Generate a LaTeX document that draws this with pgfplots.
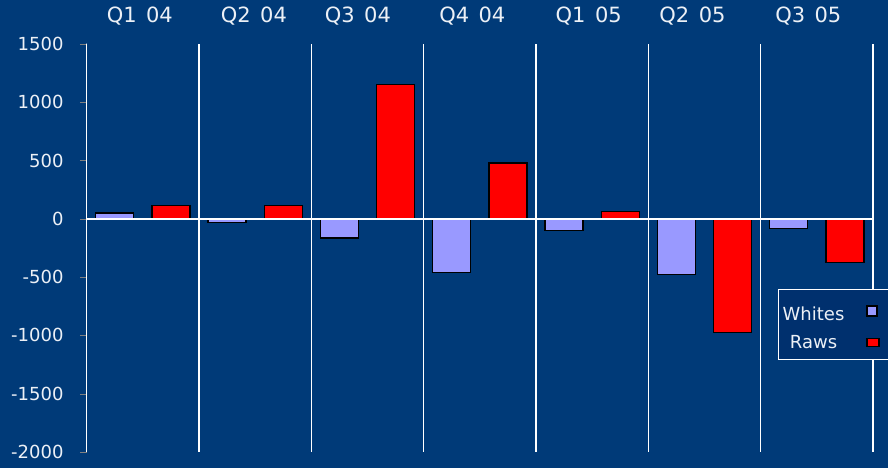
\documentclass[border=0pt]{standalone}
\usepackage{pgfplots}
\pgfplotsset{compat=1.18}
\usepackage{fontspec}
\setmainfont{DejaVu Sans}

\definecolor{bg}{RGB}{0,58,120}
\definecolor{legbg}{RGB}{0,48,110}
\definecolor{whites}{RGB}{153,153,255}
\definecolor{raws}{RGB}{255,0,0}
\definecolor{lbl}{RGB}{236,240,246}

\pgfplotsset{
    wleg/.style={legend image code/.code={\draw[##1, line width=1.3pt] (0pt,-5pt) rectangle (10pt,5pt); \path[draw=none, fill=none] (0pt,0pt) -- (26pt,0pt);}},
    rleg/.style={legend image code/.code={\draw[##1, line width=1.3pt] (0pt,-4pt) rectangle (12pt,4pt); \path[draw=none, fill=none] (0pt,0pt) -- (26pt,0pt);}},
}

\begin{document}
\begin{tikzpicture}[x=1pt,y=1pt]
\path[use as bounding box, fill=bg] (0,0) rectangle (888,468);
\begin{axis}[
    at={(86.7pt,16pt)}, anchor=south west,
    scale only axis, width=786.3pt, height=408pt,
    xmin=-0.5, xmax=6.5,
    ymin=-2000, ymax=1500,
    separate axis lines,
    axis line style={white, line width=1.3pt},
    x axis line style={draw=none},
    xtick={-0.027,0.988,1.914,2.933,3.969,4.893,5.924},
    xticklabels={Q1\hspace{0.45em}04,Q2\hspace{0.45em}04,Q3\hspace{0.45em}04,Q4\hspace{0.45em}04,Q1\hspace{0.45em}05,Q2\hspace{0.45em}05,Q3\hspace{0.45em}05},
    xticklabel pos=right,
    xtick style={draw=none},
    xticklabel style={font=\fontsize{21}{25}\selectfont, text=lbl, yshift=9pt},
    extra x ticks={0.5,1.5,2.5,3.5,4.5,5.5},
    extra x tick labels={},
    extra x tick style={grid=major, major grid style={white, line width=1.3pt}, tick style={draw=none}},
    ytick={-2000,-1500,-1000,-500,0,500,1000,1500},
    yticklabels={-2000,-1500,-1000,-500,0,500,1000,1500},
    ytick pos=left,
    tick align=outside,
    major tick length=6.7pt,
    yticklabel style={font=\fontsize{18}{22}\selectfont, text=lbl, xshift=-13pt},
    legend plot pos=right,
    legend cell align=center,
    legend style={at={(0.8792,0.3995)}, anchor=north west,
        draw=white, line width=1.3pt, fill=legbg, text=lbl,
        font=\fontsize{18}{22}\selectfont,
        inner xsep=3pt, inner ysep=9pt, row sep=11pt, column sep=21pt,
        nodes={inner sep=1pt}},
]
\addplot[ybar, bar width=0.338, bar shift=-0.25, fill=whites, draw=black, line width=1.3pt, wleg]
    coordinates {(0,50)(1,-30)(2,-165)(3,-460)(4,-100)(5,-475)(6,-80)};
\addlegendentry{\rule{0pt}{21pt}Whites}
\addplot[ybar, bar width=0.338, bar shift=0.25, fill=raws, draw=black, line width=1.3pt, rleg]
    coordinates {(0,115)(1,115)(2,1150)(3,480)(4,65)(5,-975)(6,-375)};
\addlegendentry{Raws}
\draw[white, line width=1.3pt] (axis cs:-0.5,0) -- (axis cs:6.5,0);
% y ticks, drawn by hand
\pgfplotsinvokeforeach{-2000,-1500,-1000,-500,0,500,1000,1500}{
    \draw[white, line width=1.3pt] (axis cs:-0.5,#1) -- ++(-6.7pt,0pt);
}
\end{axis}
\end{tikzpicture}
\end{document}
